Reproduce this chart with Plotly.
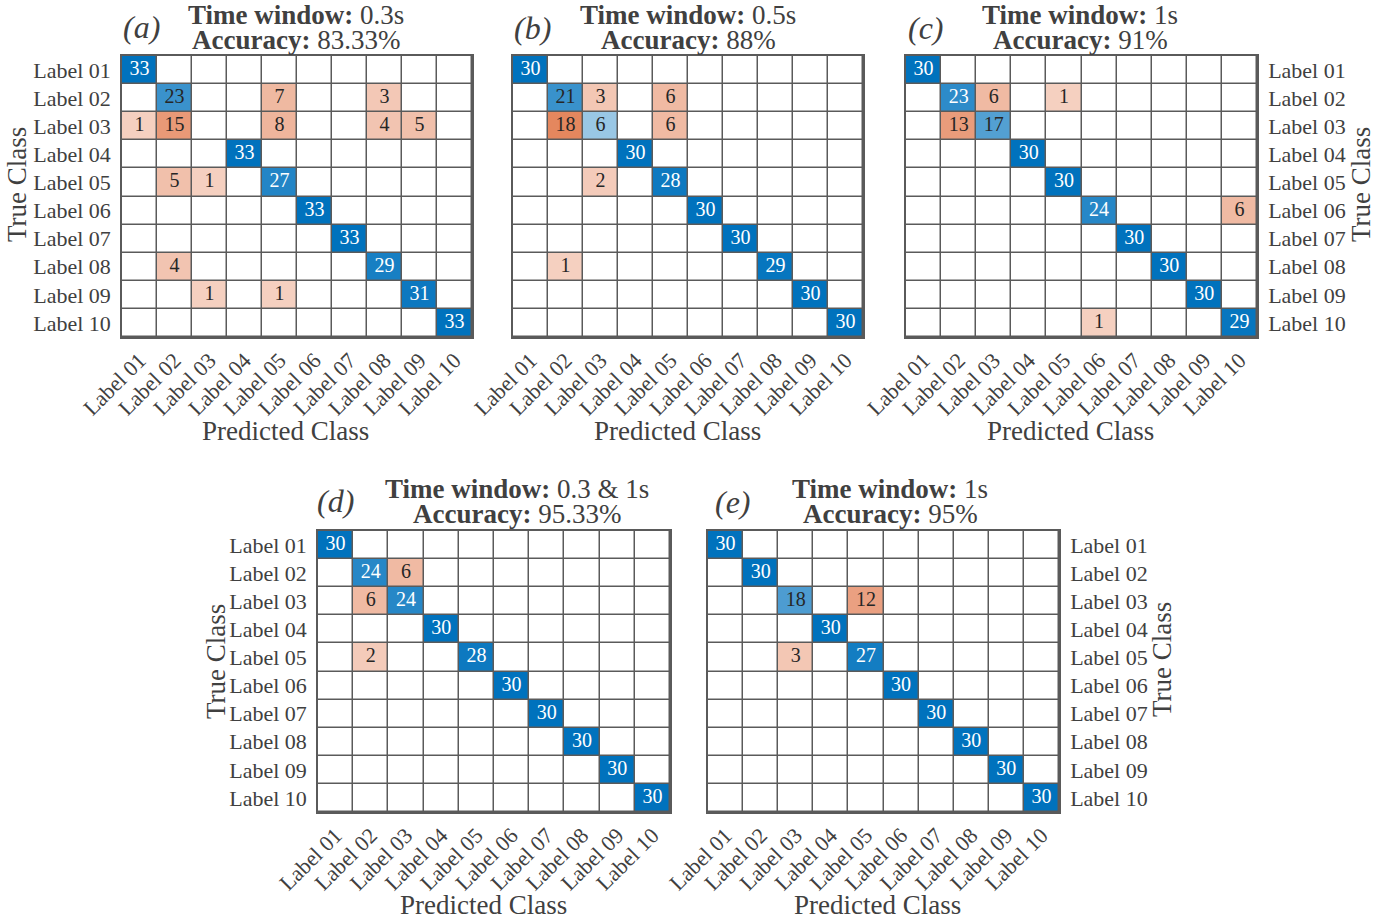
import plotly.graph_objects as go

W, H = 1395, 922
labels = [f"Label {i:02d}" for i in range(1, 11)]

cm_a = [
    [33, 0, 0, 0, 0, 0, 0, 0, 0, 0],
    [0, 23, 0, 0, 7, 0, 0, 3, 0, 0],
    [1, 15, 0, 0, 8, 0, 0, 4, 5, 0],
    [0, 0, 0, 33, 0, 0, 0, 0, 0, 0],
    [0, 5, 1, 0, 27, 0, 0, 0, 0, 0],
    [0, 0, 0, 0, 0, 33, 0, 0, 0, 0],
    [0, 0, 0, 0, 0, 0, 33, 0, 0, 0],
    [0, 4, 0, 0, 0, 0, 0, 29, 0, 0],
    [0, 0, 1, 0, 1, 0, 0, 0, 31, 0],
    [0, 0, 0, 0, 0, 0, 0, 0, 0, 33],
]
cm_b = [
    [30, 0, 0, 0, 0, 0, 0, 0, 0, 0],
    [0, 21, 3, 0, 6, 0, 0, 0, 0, 0],
    [0, 18, 6, 0, 6, 0, 0, 0, 0, 0],
    [0, 0, 0, 30, 0, 0, 0, 0, 0, 0],
    [0, 0, 2, 0, 28, 0, 0, 0, 0, 0],
    [0, 0, 0, 0, 0, 30, 0, 0, 0, 0],
    [0, 0, 0, 0, 0, 0, 30, 0, 0, 0],
    [0, 1, 0, 0, 0, 0, 0, 29, 0, 0],
    [0, 0, 0, 0, 0, 0, 0, 0, 30, 0],
    [0, 0, 0, 0, 0, 0, 0, 0, 0, 30],
]
cm_c = [
    [30, 0, 0, 0, 0, 0, 0, 0, 0, 0],
    [0, 23, 6, 0, 1, 0, 0, 0, 0, 0],
    [0, 13, 17, 0, 0, 0, 0, 0, 0, 0],
    [0, 0, 0, 30, 0, 0, 0, 0, 0, 0],
    [0, 0, 0, 0, 30, 0, 0, 0, 0, 0],
    [0, 0, 0, 0, 0, 24, 0, 0, 0, 6],
    [0, 0, 0, 0, 0, 0, 30, 0, 0, 0],
    [0, 0, 0, 0, 0, 0, 0, 30, 0, 0],
    [0, 0, 0, 0, 0, 0, 0, 0, 30, 0],
    [0, 0, 0, 0, 0, 1, 0, 0, 0, 29],
]
cm_d = [
    [30, 0, 0, 0, 0, 0, 0, 0, 0, 0],
    [0, 24, 6, 0, 0, 0, 0, 0, 0, 0],
    [0, 6, 24, 0, 0, 0, 0, 0, 0, 0],
    [0, 0, 0, 30, 0, 0, 0, 0, 0, 0],
    [0, 2, 0, 0, 28, 0, 0, 0, 0, 0],
    [0, 0, 0, 0, 0, 30, 0, 0, 0, 0],
    [0, 0, 0, 0, 0, 0, 30, 0, 0, 0],
    [0, 0, 0, 0, 0, 0, 0, 30, 0, 0],
    [0, 0, 0, 0, 0, 0, 0, 0, 30, 0],
    [0, 0, 0, 0, 0, 0, 0, 0, 0, 30],
]
cm_e = [
    [30, 0, 0, 0, 0, 0, 0, 0, 0, 0],
    [0, 30, 0, 0, 0, 0, 0, 0, 0, 0],
    [0, 0, 18, 0, 12, 0, 0, 0, 0, 0],
    [0, 0, 0, 30, 0, 0, 0, 0, 0, 0],
    [0, 0, 3, 0, 27, 0, 0, 0, 0, 0],
    [0, 0, 0, 0, 0, 30, 0, 0, 0, 0],
    [0, 0, 0, 0, 0, 0, 30, 0, 0, 0],
    [0, 0, 0, 0, 0, 0, 0, 30, 0, 0],
    [0, 0, 0, 0, 0, 0, 0, 0, 30, 0],
    [0, 0, 0, 0, 0, 0, 0, 0, 0, 30],
]

tags = ["(a)", "(b)", "(c)", "(d)", "(e)"]
windows = ["0.3s", "0.5s", "1s", "0.3 &amp; 1s", "1s"]
accuracies = ["83.33%", "88%", "91%", "95.33%", "95%"]
matrices = [cm_a, cm_b, cm_c, cm_d, cm_e]

# layout (pixel boxes) : x0, x1, y0, y1
boxes = [(122, 472, 56, 337), (513, 863, 56, 337), (906, 1257, 56, 337),
         (318, 670, 531, 812), (708, 1059, 531, 812)]
ylab_side = ["left", None, "right", "left", "right"]
title_cx = [296, 688, 1080, 517, 890]
tag_pos = [(141, 27), (532, 28), (926, 28), (335, 501), (733, 502)]
title_y = [(15, 40), (15, 40), (15, 40), (489, 514), (489, 514)]
xtitle_pos = [(285, 431), (677, 431), (1070, 431), (483, 905), (877, 905)]
ytitle_pos = [(17, 185), None, (1361, 185), (216, 662), (1162, 660)]

FONT = "Liberation Serif"
TXT = "#404040"
GRID = "#5a5a5a"
BLUE = "rgb(0,114,189)"
ORANGE = "rgb(217,83,25)"

fig = go.Figure()
annotations = []

def px(x):
    return x / W

def py(y):
    return 1 - y / H

for i, cm in enumerate(matrices):
    n = i + 1
    xa = "x" if n == 1 else f"x{n}"
    ya = "y" if n == 1 else f"y{n}"
    vmax = max(max(r) for r in cm)
    z = []
    tx, ty, tt, tc = [], [], [], []
    for r in range(10):
        row = []
        for c in range(10):
            v = cm[r][c]
            if v == 0:
                row.append(0)
                continue
            a = 0.25 + 0.75 * v / vmax
            row.append(a if r == c else -a)
            tx.append(labels[c]); ty.append(labels[r]); tt.append(str(v))
            tc.append("white" if (r == c and v / vmax > 0.73) else "#262626")
        z.append(row)
    fig.add_trace(go.Heatmap(
        z=z, x=labels, y=labels, xaxis=xa, yaxis=ya,
        zmin=-1, zmax=1, showscale=False, hoverinfo="skip",
        colorscale=[[0, ORANGE], [0.5, "white"], [1, BLUE]],
        xgap=1.5, ygap=1.5,
    ))
    fig.add_trace(go.Scatter(
        x=tx, y=ty, text=tt, mode="text", xaxis=xa, yaxis=ya,
        textfont=dict(family=FONT, size=20, color=tc),
        hoverinfo="skip", showlegend=False,
    ))
    x0, x1, y0, y1 = boxes[i]
    axcommon = dict(showgrid=False, zeroline=False, showline=True, mirror=True,
                    linecolor=GRID, linewidth=1.5, ticks="", automargin=False,
                    tickfont=dict(family=FONT, size=22, color=TXT),
                    type="category", fixedrange=True)
    fig.layout[("xaxis" if n == 1 else f"xaxis{n}")] = dict(
        domain=[px(x0), px(x1)], anchor=ya, tickangle=-45,
        categoryorder="array", categoryarray=labels, **axcommon)
    side = ylab_side[i]
    fig.layout[("yaxis" if n == 1 else f"yaxis{n}")] = dict(
        domain=[py(y1), py(y0)], anchor=xa, autorange="reversed",
        categoryorder="array", categoryarray=labels,
        showticklabels=side is not None, side=side or "left",
        ticklabelstandoff=5, **axcommon)

    # titles
    annotations.append(dict(x=px(title_cx[i]), y=py(title_y[i][0]), xref="paper", yref="paper",
                            text=f"<b>Time window:</b> {windows[i]}", showarrow=False,
                            xanchor="center", yanchor="middle",
                            font=dict(family=FONT, size=27, color=TXT)))
    annotations.append(dict(x=px(title_cx[i]), y=py(title_y[i][1]), xref="paper", yref="paper",
                            text=f"<b>Accuracy:</b> {accuracies[i]}", showarrow=False,
                            xanchor="center", yanchor="middle",
                            font=dict(family=FONT, size=27, color=TXT)))
    annotations.append(dict(x=px(tag_pos[i][0]), y=py(tag_pos[i][1]), xref="paper", yref="paper",
                            text=f"<i>{tags[i]}</i>", showarrow=False,
                            xanchor="center", yanchor="middle",
                            font=dict(family=FONT, size=32, color=TXT)))
    annotations.append(dict(x=px(xtitle_pos[i][0]), y=py(xtitle_pos[i][1]), xref="paper", yref="paper",
                            text="Predicted Class", showarrow=False,
                            xanchor="center", yanchor="middle",
                            font=dict(family=FONT, size=27, color=TXT)))
    if ytitle_pos[i] is not None:
        annotations.append(dict(x=px(ytitle_pos[i][0]), y=py(ytitle_pos[i][1]), xref="paper", yref="paper",
                                text="True Class", showarrow=False, textangle=-90,
                                xanchor="center", yanchor="middle",
                                font=dict(family=FONT, size=27, color=TXT)))

fig.update_layout(
    width=W, height=H, margin=dict(l=0, r=0, t=0, b=0, autoexpand=False),
    paper_bgcolor="white", plot_bgcolor=GRID,
    showlegend=False, annotations=annotations,
)

fig.write_html("out.html", config={"displayModeBar": False},
               post_script="document.body.style.margin='0';")
